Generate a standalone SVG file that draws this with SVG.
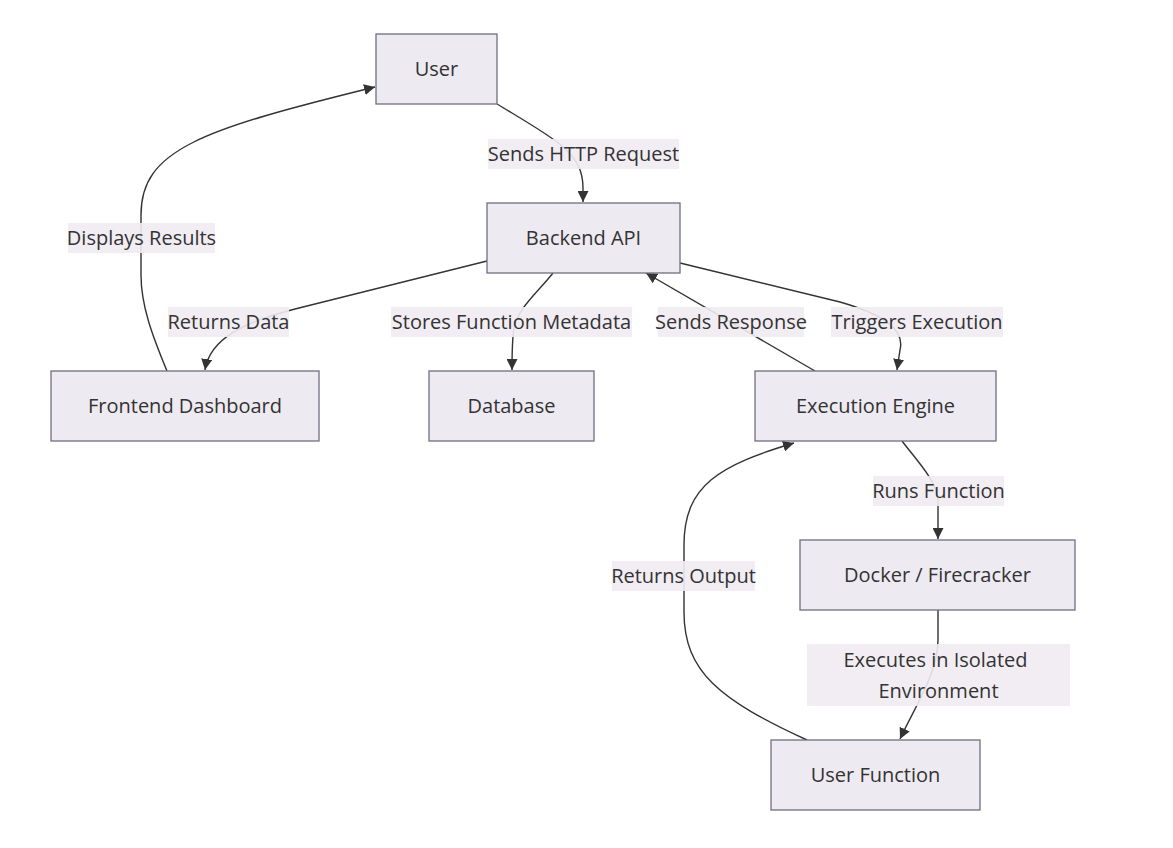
<svg xmlns="http://www.w3.org/2000/svg" width="1173" height="848" viewBox="0 0 1173 848">
<style>
.node rect{fill:#eeeaf1;stroke:#6f6f82;stroke-width:1.3}
.node text,.lbl text{font-family:"Open Sans","Noto Sans",sans-serif;font-size:20px;fill:#333;text-anchor:middle;dominant-baseline:central}
.edges path{fill:none;stroke:#333;stroke-width:1.4}
.lbl rect{fill:#efebf2;opacity:0.9}
</style>
<defs>
<marker id="arr" viewBox="0 0 10 10" refX="10" refY="5" markerWidth="11" markerHeight="11" markerUnits="userSpaceOnUse" orient="auto">
<path d="M0,0 L10,5 L0,10 z" fill="#333"/>
</marker>
</defs>
<rect width="1173" height="848" fill="#ffffff"/>
<g class="edges">
<path d="M497,104 C525,121 548,134 562,146 C578,160 583,172 583,188 L583,202" marker-end="url(#arr)"/>
<path d="M167,371 C152,335 141,305 141,275 L141,215 C141,150 200,130 375,87" marker-end="url(#arr)"/>
<path d="M487,261 L295,309 C245,322 210,338 205,370" marker-end="url(#arr)"/>
<path d="M553,273 C538,292 518,308 514,328 C512,340 512,355 512,370" marker-end="url(#arr)"/>
<path d="M815,371 L646,273" marker-end="url(#arr)"/>
<path d="M680,263 L840,302 C885,315 905,330 900,350 L897,370" marker-end="url(#arr)"/>
<path d="M902,441 C918,462 936,480 938,500 L938,539" marker-end="url(#arr)"/>
<path d="M807,740 C720,700 684,672 684,612 L684,545 C684,485 720,465 794,443" marker-end="url(#arr)"/>
<path d="M938,610 L938,640 C938,672 916,705 900,739" marker-end="url(#arr)"/>
</g>
<g class="lbl">
<rect x="488" y="139" width="191" height="30"/><text x="583.5" y="153">Sends HTTP Request</text>
<rect x="68" y="223" width="147" height="30"/><text x="141.5" y="237">Displays Results</text>
<rect x="168" y="307" width="121" height="30"/><text x="228.5" y="321">Returns Data</text>
<rect x="391" y="307" width="241" height="30"/><text x="511.5" y="321">Stores Function Metadata</text>
<rect x="658" y="307" width="146" height="30"/><text x="731" y="321">Sends Response</text>
<rect x="831" y="307" width="172" height="30"/><text x="917" y="321">Triggers Execution</text>
<rect x="873" y="476" width="131" height="30"/><text x="938.5" y="490">Runs Function</text>
<rect x="612" y="561" width="143" height="30"/><text x="683.5" y="575">Returns Output</text>
<rect x="807" y="644" width="263" height="62"/><text x="935.5" y="659">Executes in Isolated</text><text x="938.5" y="690">Environment</text>
</g>
<g id="user" class="node"><rect x="376" y="34" width="121" height="70"/><text x="436.5" y="68">User</text></g>
<g id="backend" class="node"><rect x="487" y="203" width="193" height="70"/><text x="583.5" y="237">Backend API</text></g>
<g id="frontend" class="node"><rect x="51" y="371" width="268" height="70"/><text x="185" y="405">Frontend Dashboard</text></g>
<g id="database" class="node"><rect x="429" y="371" width="165" height="70"/><text x="511.5" y="405">Database</text></g>
<g id="engine" class="node"><rect x="755" y="371" width="241" height="70"/><text x="875.5" y="405">Execution Engine</text></g>
<g id="docker" class="node"><rect x="800" y="540" width="275" height="70"/><text x="937.5" y="574">Docker / Firecracker</text></g>
<g id="userfn" class="node"><rect x="771" y="740" width="209" height="70"/><text x="875.5" y="774">User Function</text></g>
</svg>
